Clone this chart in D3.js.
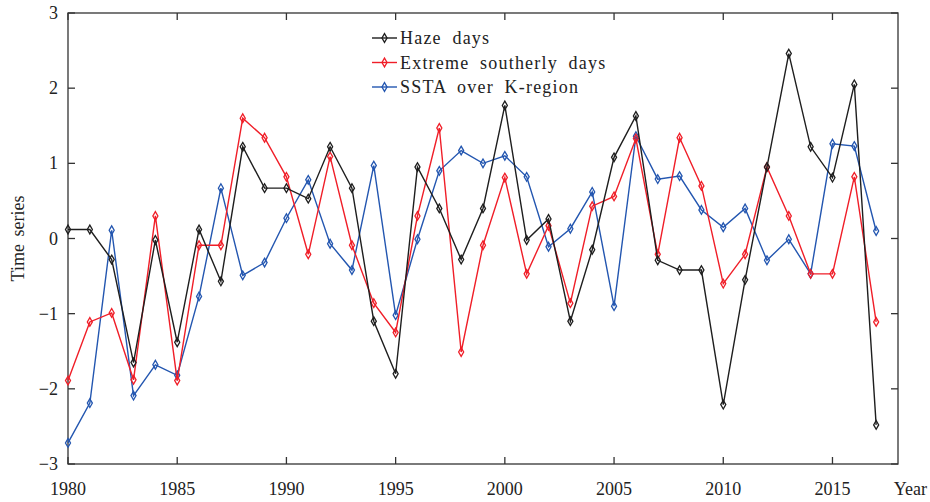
<!DOCTYPE html>
<html>
<head>
  <meta charset="UTF-8">
  <style>
    body { margin: 0; background: #fff; }
    svg text { font-family: "Liberation Serif", "DejaVu Serif", serif; fill: #222; }
  </style>
</head>
<body>
<svg></svg>
<script src="https://d3js.org/d3.v7.min.js"></script>
<script>

let width = 930, height = 502;

// data
const years = d3.range(1980, 2018);
const hazeDays = [0.12, 0.12, -0.28, -1.65, -0.02, -1.38, 0.12, -0.57, 1.22, 0.67,
  0.67, 0.53, 1.22, 0.67, -1.1, -1.8, 0.95, 0.4, -0.28, 0.4,
  1.77, -0.02, 0.26, -1.1, -0.15, 1.08, 1.63, -0.29, -0.42, -0.42,
  -2.21, -0.55, 0.95, 2.46, 1.22, 0.81, 2.05, -2.48];
const southerlyDays = [-1.89, -1.11, -0.99, -1.88, 0.3, -1.89, -0.09, -0.09, 1.6, 1.34,
  0.82, -0.21, 1.09, -0.09, -0.86, -1.25, 0.3, 1.47, -1.51, -0.09,
  0.81, -0.47, 0.17, -0.86, 0.43, 0.56, 1.33, -0.21, 1.34, 0.7,
  -0.6, -0.21, 0.95, 0.3, -0.47, -0.47, 0.82, -1.11];
const sstaK = [-2.72, -2.19, 0.11, -2.09, -1.68, -1.82, -0.77, 0.67, -0.49, -0.32,
  0.27, 0.78, -0.07, -0.42, 0.97, -1.02, -0.01, 0.9, 1.17, 1.0,
  1.1, 0.82, -0.11, 0.13, 0.62, -0.9, 1.36, 0.79, 0.83, 0.38,
  0.15, 0.4, -0.29, -0.01, -0.47, 1.26, 1.23, 0.1];
const seriesNames = ["Haze days", "Extreme southerly days", "SSTA over K-region"];
const seriesColors = ["#1e1e1e", "#f01e28", "#2356b0"];
const xTicks = [1980, 1985, 1990, 1995, 2000, 2005, 2010, 2015];
const yTicks = [-3, -2, -1, 0, 1, 2, 3];

const series = [hazeDays, southerlyDays, sstaK];

let svg = d3.select("svg")
    .attr("width", width)
    .attr("height", height);

const margin = {left: 68, right: 32, top: 13, bottom: 38};
const x = d3.scaleLinear().domain([1980, 2018]).range([margin.left, width - margin.right]);
const y = d3.scaleLinear().domain([-3, 3]).range([height - margin.bottom, margin.top]);

const tickLen = 7;

// frame with inward ticks on all four sides
let axisG = svg.append("g").attr("stroke", "#333").attr("stroke-width", 1.3);
axisG.append("rect")
    .attr("x", x(1980)).attr("y", y(3))
    .attr("width", x(2018) - x(1980)).attr("height", y(-3) - y(3))
    .attr("fill", "none");

xTicks.forEach(function(t) {
    axisG.append("line").attr("x1", x(t)).attr("x2", x(t))
        .attr("y1", y(-3)).attr("y2", y(-3) - tickLen);
    axisG.append("line").attr("x1", x(t)).attr("x2", x(t))
        .attr("y1", y(3)).attr("y2", y(3) + tickLen);
});
yTicks.forEach(function(t) {
    axisG.append("line").attr("x1", x(1980)).attr("x2", x(1980) + tickLen)
        .attr("y1", y(t)).attr("y2", y(t));
    axisG.append("line").attr("x1", x(2018)).attr("x2", x(2018) - tickLen)
        .attr("y1", y(t)).attr("y2", y(t));
});

// tick labels
svg.append("g").selectAll("text")
    .data(xTicks)
    .enter()
    .append("text")
    .attr("x", d => x(d))
    .attr("y", y(-3) + 31)
    .attr("text-anchor", "middle")
    .attr("font-size", 18)
    .text(d => d);

svg.append("g").selectAll("text")
    .data(yTicks)
    .enter()
    .append("text")
    .attr("x", x(1980) - 10)
    .attr("y", d => y(d) + 6)
    .attr("text-anchor", "end")
    .attr("font-size", 18)
    .text(d => d < 0 ? "\u2212" + Math.abs(d) : d);

svg.append("text")
    .attr("x", 927)
    .attr("y", y(-3) + 31)
    .attr("text-anchor", "end")
    .attr("font-size", 18)
    .text("Year");

svg.append("text")
    .attr("transform", "translate(24," + y(0) + ") rotate(-90)")
    .attr("text-anchor", "middle")
    .attr("font-size", 18)
    .attr("word-spacing", 3)
    .text("Time series");

// lines + diamond markers
let line = d3.line()
    .x((d, i) => x(years[i]))
    .y(d => y(d));

let diamond = d3.symbol().type(d3.symbolDiamond).size(22);

// draw blue and red under black, in reverse order
[2, 1, 0].forEach(function(k) {
    let g = svg.append("g");
    g.append("path")
        .datum(series[k])
        .attr("d", line)
        .attr("fill", "none")
        .attr("stroke", seriesColors[k])
        .attr("stroke-width", 1.4);
    g.selectAll("path.mk")
        .data(series[k])
        .enter()
        .append("path")
        .attr("class", "mk")
        .attr("d", diamond)
        .attr("transform", (d, i) => "translate(" + x(years[i]) + "," + y(d) + ")")
        .attr("fill", "none")
        .attr("stroke", seriesColors[k])
        .attr("stroke-width", 1.3);
});

// legend
let legend = svg.append("g").attr("transform", "translate(372, 38)");
seriesNames.forEach(function(name, i) {
    let row = legend.append("g").attr("transform", "translate(0," + (i * 24.5) + ")");
    row.append("line")
        .attr("x1", 0).attr("x2", 25)
        .attr("stroke", seriesColors[i]).attr("stroke-width", 1.4);
    row.append("path")
        .attr("d", diamond)
        .attr("transform", "translate(12.5,0)")
        .attr("fill", "none")
        .attr("stroke", seriesColors[i])
        .attr("stroke-width", 1.3);
    row.append("text")
        .attr("x", 28)
        .attr("y", 6)
        .attr("font-size", 18)
        .attr("letter-spacing", 1.2)
        .attr("word-spacing", 5)
        .text(name);
});

</script>
</body>
</html>
